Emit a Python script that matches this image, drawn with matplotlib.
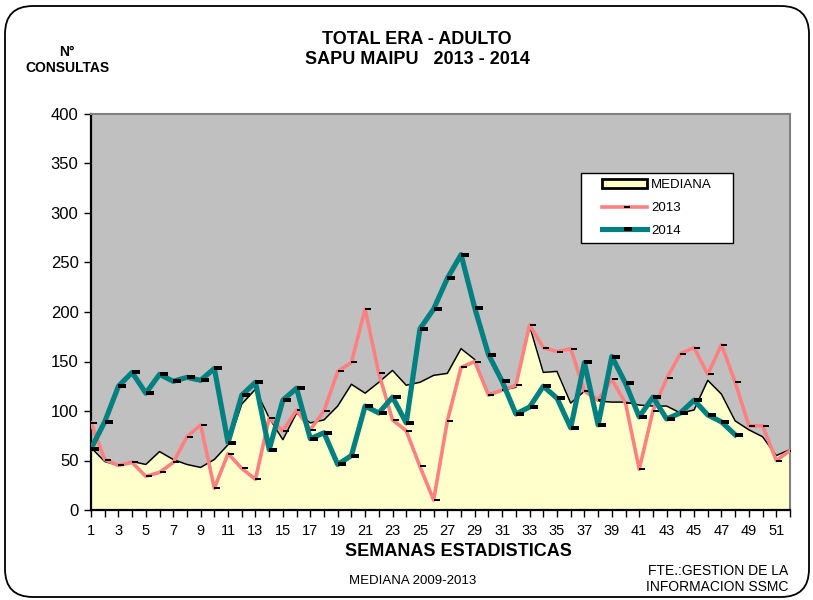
import matplotlib
matplotlib.use("Agg")
import matplotlib.pyplot as plt
from matplotlib.patches import FancyBboxPatch, Patch, Rectangle
from matplotlib.lines import Line2D
from matplotlib.path import Path

plt.rcParams['font.family'] = ['Liberation Sans', 'DejaVu Sans']

# semanas estadisticas 1..52
semanas = list(range(1, 53))

# mediana 2009-2013
mediana = [63, 49, 45, 49, 46, 59, 51, 46, 43, 51,
           66, 107, 122, 93, 71, 98, 88, 91, 105, 127,
           118, 129, 141, 126, 129, 136, 138, 163, 152, 117,
           121, 124, 186, 139, 140, 108, 120, 110, 109, 109,
           106, 105, 105, 98, 101, 131, 117, 90, 81, 74,
           55, 61]

consultas_2013 = [88, 51, 45, 48, 34, 38, 48, 74, 86, 22,
                  57, 42, 31, 93, 80, 101, 81, 100, 140, 149,
                  203, 138, 91, 80, 44, 10, 90, 144, 150, 116,
                  121, 126, 187, 164, 160, 163, 120, 111, 132, 108,
                  41, 100, 133, 158, 164, 137, 167, 129, 85, 85,
                  50, 60]

# 2014 solo hasta la semana 48
consultas_2014 = [62, 89, 125, 139, 118, 137, 130, 134, 131, 143,
                  68, 116, 129, 61, 111, 123, 72, 78, 46, 55,
                  105, 98, 114, 88, 183, 203, 234, 258, 204, 157,
                  130, 97, 104, 125, 113, 83, 149, 86, 155, 128,
                  94, 114, 92, 98, 111, 96, 89, 76]

y_ticks = list(range(0, 401, 50))

GRIS = '#C0C0C0'
AMARILLO = '#FFFFCC'
ROSA = '#FF8080'
VERDE = '#008080'

# marcador tipo guion, corrido a la derecha del punto
guion = Path([(0, -0.22), (1, -0.22), (1, 0.22), (0, 0.22), (0, -0.22)],
             [Path.MOVETO, Path.LINETO, Path.LINETO, Path.LINETO, Path.CLOSEPOLY])

fig = plt.figure(figsize=(8.13, 6.0), dpi=100)
ax = fig.add_axes([91 / 813, 1 - 510 / 600, 699 / 813, 396 / 600])
ax.set_facecolor(GRIS)

ax.fill_between(semanas, mediana, 0, color=AMARILLO, zorder=1)
ax.plot(semanas, mediana, color='black', lw=1.1, zorder=2)

ax.plot(semanas[:len(consultas_2013)], consultas_2013, color=ROSA, lw=2.6,
        marker=guion, markersize=8.6, markerfacecolor='black',
        markeredgecolor='black', markeredgewidth=0, zorder=3)
ax.plot(semanas[:len(consultas_2014)], consultas_2014, color=VERDE, lw=3.7,
        marker=guion, markersize=11.5, markerfacecolor='black',
        markeredgecolor='black', markeredgewidth=0, zorder=4)

ax.set_xlim(1, 52)
ax.set_ylim(0, 400)
ax.set_yticks(y_ticks)
ax.set_yticklabels([str(v) for v in y_ticks], fontsize=12)
ax.set_xticks(semanas)
ax.set_xticklabels([str(s) if s % 2 == 1 else '' for s in semanas], fontsize=10.5)
ax.tick_params(axis='both', direction='out', length=5, width=1, color='black')
ax.tick_params(axis='x', pad=5)
ax.tick_params(axis='y', pad=4)

for lado in ['left', 'bottom']:
    ax.spines[lado].set_color('black')
    ax.spines[lado].set_linewidth(1.6)
for lado in ['top', 'right']:
    ax.spines[lado].set_color('#808080')
    ax.spines[lado].set_linewidth(1.5)

# recuadro de la leyenda
ax.add_patch(Rectangle((0.701, 0.674), 0.217, 0.177, transform=ax.transAxes,
                       facecolor='white', edgecolor='black', lw=1, zorder=5))
handles = [
    Patch(facecolor=AMARILLO, edgecolor='black', linewidth=2),
    Line2D([], [], color=ROSA, lw=2.6, marker=guion, markersize=9,
           markerfacecolor='black', markeredgewidth=0),
    Line2D([], [], color=VERDE, lw=3.7, marker=guion, markersize=11,
           markerfacecolor='black', markeredgewidth=0),
]
leg = ax.legend(handles, ['MEDIANA', '2013', '2014'], loc='center',
                bbox_to_anchor=(0.701 + 0.217 / 2, 0.674 + 0.177 / 2),
                frameon=False, fontsize=9.5, handlelength=3.4,
                handletextpad=0.3, labelspacing=0.8, borderpad=0.3)
leg.set_zorder(6)

# textos
fig.text(417 / 813, 1 - 40 / 600, 'TOTAL ERA - ADULTO', ha='center', va='center',
         fontsize=13, fontweight='bold')
fig.text(417 / 813, 1 - 60 / 600, 'SAPU MAIPU   2013 - 2014', ha='center', va='center',
         fontsize=13, fontweight='bold')
fig.text(67 / 813, 1 - 52 / 600, 'N°', ha='center', va='center',
         fontsize=10, fontweight='bold')
fig.text(67 / 813, 1 - 68 / 600, 'CONSULTAS', ha='center', va='center',
         fontsize=10, fontweight='bold')
fig.text(458 / 813, 1 - 551 / 600, 'SEMANAS ESTADISTICAS', ha='center', va='center',
         fontsize=13, fontweight='bold')
fig.text(413 / 813, 1 - 581 / 600, 'MEDIANA 2009-2013', ha='center', va='center',
         fontsize=9.5)
fig.text(788 / 813, 1 - 579 / 600, 'FTE.:GESTION DE LA\nINFORMACION SSMC',
         ha='right', va='center', fontsize=10, multialignment='right',
         linespacing=1.1)

# marco redondeado del grafico
marco = FancyBboxPatch((0.05, 0.03), 8.04, 5.91,
                       boxstyle='round,pad=0,rounding_size=0.28',
                       transform=fig.dpi_scale_trans, facecolor='none',
                       edgecolor='black', linewidth=1.3)
fig.add_artist(marco)

fig.savefig('out.png', dpi=100)
